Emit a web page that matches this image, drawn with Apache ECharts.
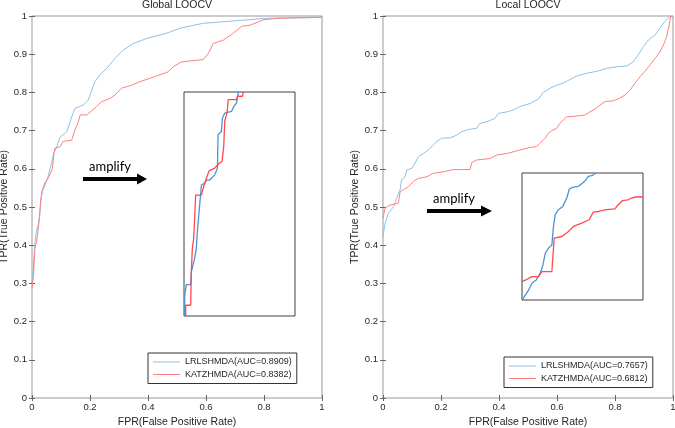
<!DOCTYPE html>
<html>
<head>
<meta charset="utf-8">
<script src="https://cdn.jsdelivr.net/npm/echarts@6/dist/echarts.min.js"></script>
<style>
  html, body { margin: 0; padding: 0; background: #fff; }
  #chart { width: 675px; height: 428px; }
</style>
</head>
<body>
<div id="chart"></div>
<script>
// panel titles / legend names
const panelTitles = ['Global LOOCV', 'Local LOOCV'];
const globalNames = ['LRLSHMDA(AUC=0.8909)', 'KATZHMDA(AUC=0.8382)'];
const localNames = ['LRLSHMDA(AUC=0.7657)', 'KATZHMDA(AUC=0.6812)'];
const xTickStep = 0.2;
const yTickStep = 0.1;

// Global LOOCV ROC curves [FPR, TPR]
const globalBlue = [[0,0.3],[0.004,0.33],[0.007,0.37],[0.009,0.396],[0.014,0.43],[0.02,0.45],[0.026,0.475],[0.03,0.51],[0.033,0.53],[0.038,0.545],[0.045,0.557],[0.055,0.58],[0.067,0.614],[0.075,0.64],[0.084,0.655],[0.097,0.683],[0.12,0.697],[0.13,0.72],[0.137,0.736],[0.148,0.758],[0.177,0.767],[0.194,0.78],[0.206,0.806],[0.217,0.828],[0.234,0.846],[0.258,0.863],[0.286,0.889],[0.315,0.911],[0.349,0.928],[0.395,0.941],[0.464,0.955],[0.51,0.968],[0.591,0.981],[0.694,0.987],[0.809,0.994],[1,0.996]];
const globalRed = [[0,0.288],[0.005,0.318],[0.01,0.392],[0.016,0.409],[0.025,0.466],[0.03,0.518],[0.034,0.54],[0.044,0.563],[0.056,0.575],[0.061,0.578],[0.07,0.6],[0.076,0.641],[0.079,0.654],[0.097,0.658],[0.108,0.672],[0.137,0.675],[0.148,0.702],[0.16,0.723],[0.166,0.741],[0.189,0.741],[0.223,0.763],[0.24,0.776],[0.269,0.784],[0.286,0.793],[0.309,0.811],[0.344,0.819],[0.372,0.828],[0.407,0.837],[0.441,0.846],[0.47,0.854],[0.487,0.867],[0.516,0.88],[0.591,0.886],[0.608,0.902],[0.625,0.928],[0.66,0.937],[0.694,0.955],[0.723,0.973],[0.752,0.976],[0.798,0.99],[0.844,0.994],[1,0.997]];

// Local LOOCV ROC curves
const localBlue = [[0,0.42],[0.001,0.427],[0.007,0.457],[0.018,0.483],[0.036,0.501],[0.047,0.523],[0.059,0.545],[0.064,0.571],[0.076,0.579],[0.082,0.597],[0.099,0.601],[0.11,0.614],[0.122,0.632],[0.139,0.64],[0.156,0.649],[0.173,0.662],[0.185,0.671],[0.202,0.68],[0.231,0.681],[0.254,0.688],[0.271,0.697],[0.294,0.703],[0.323,0.706],[0.334,0.719],[0.358,0.723],[0.386,0.732],[0.398,0.745],[0.427,0.749],[0.449,0.754],[0.472,0.763],[0.507,0.771],[0.536,0.783],[0.553,0.8],[0.576,0.811],[0.599,0.819],[0.622,0.824],[0.645,0.834],[0.668,0.843],[0.702,0.85],[0.742,0.856],[0.771,0.863],[0.806,0.867],[0.84,0.869],[0.863,0.88],[0.88,0.898],[0.898,0.92],[0.915,0.937],[0.938,0.95],[0.955,0.968],[0.972,0.986],[0.99,0.999],[1,1]];
const localRed = [[0,0.47],[0.001,0.475],[0.007,0.497],[0.024,0.505],[0.053,0.51],[0.059,0.54],[0.07,0.545],[0.087,0.553],[0.105,0.567],[0.122,0.575],[0.151,0.579],[0.173,0.588],[0.208,0.592],[0.242,0.598],[0.3,0.598],[0.306,0.616],[0.323,0.623],[0.369,0.627],[0.392,0.636],[0.427,0.64],[0.472,0.649],[0.507,0.656],[0.53,0.658],[0.541,0.667],[0.559,0.68],[0.57,0.693],[0.582,0.7],[0.599,0.706],[0.61,0.719],[0.622,0.728],[0.633,0.736],[0.668,0.738],[0.697,0.741],[0.714,0.749],[0.731,0.756],[0.748,0.767],[0.766,0.776],[0.794,0.778],[0.817,0.785],[0.834,0.793],[0.852,0.806],[0.869,0.824],[0.886,0.841],[0.903,0.855],[0.921,0.872],[0.938,0.889],[0.955,0.906],[0.967,0.924],[0.978,0.946],[0.986,0.973],[0.992,0.999],[1,1]];

// magnified insets (box units 0..1)
const insetGlobalBlue = [[0.006,0.003],[0.006,0.09],[0.021,0.09],[0.021,0.14],[0.06,0.14],[0.066,0.197],[0.081,0.227],[0.096,0.257],[0.111,0.301],[0.12,0.376],[0.136,0.466],[0.148,0.533],[0.157,0.585],[0.187,0.593],[0.202,0.607],[0.232,0.607],[0.277,0.63],[0.301,0.66],[0.307,0.809],[0.337,0.824],[0.346,0.884],[0.367,0.906],[0.428,0.913],[0.449,0.936],[0.473,0.951],[0.488,0.996],[0.494,1]];
const insetGlobalRed = [[0.015,0],[0.015,0.048],[0.06,0.048],[0.066,0.197],[0.075,0.301],[0.087,0.346],[0.096,0.436],[0.105,0.54],[0.157,0.54],[0.172,0.57],[0.202,0.615],[0.226,0.648],[0.277,0.66],[0.316,0.682],[0.343,0.69],[0.358,0.757],[0.367,0.869],[0.389,0.913],[0.398,0.966],[0.473,0.966],[0.482,0.981],[0.527,0.981],[0.533,1]];
const insetLocalBlue = [[0.005,0.005],[0.027,0.039],[0.055,0.079],[0.082,0.132],[0.118,0.158],[0.151,0.211],[0.173,0.276],[0.192,0.368],[0.219,0.408],[0.247,0.434],[0.26,0.579],[0.274,0.671],[0.301,0.711],[0.337,0.737],[0.37,0.803],[0.392,0.876],[0.419,0.887],[0.466,0.895],[0.501,0.921],[0.529,0.947],[0.548,0.974],[0.584,0.982],[0.611,1]];
const insetLocalRed = [[0,0.145],[0.041,0.163],[0.082,0.184],[0.137,0.184],[0.164,0.224],[0.247,0.224],[0.266,0.487],[0.329,0.5],[0.384,0.539],[0.425,0.579],[0.493,0.605],[0.556,0.632],[0.589,0.692],[0.63,0.697],[0.699,0.711],[0.767,0.718],[0.795,0.75],[0.83,0.782],[0.877,0.789],[0.904,0.803],[0.94,0.811],[1,0.811]];

const FONT = 'Liberation Sans, Arial, sans-serif';
const BLUE = '#8cc1ec', RED = '#ff8080';
const BLUE_IN = '#4a94d6', RED_IN = '#ff4a4a';

const chart = echarts.init(document.getElementById('chart'));

function mainAxes(gi){
    const tick = { show: true, inside: true, length: 3, lineStyle: { color: '#666' } };
    const lbl = { color: '#262626', fontSize: 9.5, fontFamily: FONT };
    return {
        x: [{
            gridIndex: gi, type: 'value', min: 0, max: 1, interval: xTickStep, position: 'bottom',
            axisLine: { show: false }, axisTick: tick, splitLine: { show: false },
            axisLabel: Object.assign({ margin: 4 }, lbl),
            name: 'FPR(False Positive Rate)', nameLocation: 'middle', nameGap: 19,
            nameTextStyle: { color: '#262626', fontSize: 10.5, fontFamily: FONT }
        }, {
            gridIndex: gi, type: 'value', min: 0, max: 1, interval: xTickStep, position: 'top',
            axisLine: { show: false }, axisTick: tick, axisLabel: { show: false }, splitLine: { show: false }
        }],
        y: [{
            gridIndex: gi, type: 'value', min: 0, max: 1, interval: yTickStep, position: 'left',
            axisLine: { show: false }, axisTick: tick, splitLine: { show: false },
            axisLabel: Object.assign({ margin: 5 }, lbl),
            name: 'TPR(True Positive Rate)', nameLocation: 'middle', nameGap: 21,
            nameTextStyle: { color: '#262626', fontSize: 10.5, fontFamily: FONT }
        }, {
            gridIndex: gi, type: 'value', min: 0, max: 1, interval: yTickStep, position: 'right',
            axisLine: { show: false }, axisTick: tick, axisLabel: { show: false }, splitLine: { show: false }
        }]
    };
}
function insetAxes(gi){
    const off = { show: false };
    return {
        x: { gridIndex: gi, type: 'value', min: 0, max: 1, axisLine: off, axisTick: off, axisLabel: off, splitLine: off },
        y: { gridIndex: gi, type: 'value', min: 0, max: 1, axisLine: off, axisTick: off, axisLabel: off, splitLine: off }
    };
}

const a0 = mainAxes(0), a1 = mainAxes(1), a2 = insetAxes(2), a3 = insetAxes(3);
// xAxis indices: 0,1 grid0; 2,3 grid1; 4 grid2; 5 grid3
const xAxes = [a0.x[0], a0.x[1], a1.x[0], a1.x[1], a2.x, a3.x];
const yAxes = [a0.y[0], a0.y[1], a1.y[0], a1.y[1], a2.y, a3.y];

function line(name, data, xi, color, width){
    return {
        type: 'line', name: name, data: data, xAxisIndex: xi, yAxisIndex: xi,
        symbol: 'none', animation: false, z: 3,
        lineStyle: { color: color, width: width },
        itemStyle: { color: color }
    };
}

const legendText = { color: '#262626', fontSize: 9, fontFamily: FONT, lineHeight: 12 };

chart.setOption({
    backgroundColor: '#fff',
    animation: false,
    title: [
        { text: panelTitles[0], left: 177, top: 0, textAlign: 'center', padding: 0,
          textStyle: { fontSize: 10.5, fontWeight: 'normal', color: '#262626', fontFamily: FONT } },
        { text: panelTitles[1], left: 528, top: 0, textAlign: 'center', padding: 0,
          textStyle: { fontSize: 10.5, fontWeight: 'normal', color: '#262626', fontFamily: FONT } }
    ],
    grid: [
        { left: 32, top: 16, width: 290, height: 382, show: true, borderColor: '#999', borderWidth: 1, containLabel: false, outerBoundsMode: 'none' },
        { left: 383, top: 16, width: 290, height: 382, show: true, borderColor: '#999', borderWidth: 1, containLabel: false, outerBoundsMode: 'none' },
        { left: 184, top: 92, width: 111, height: 224, show: true, backgroundColor: '#fff', borderColor: '#404040', borderWidth: 1, z: 2, outerBoundsMode: 'none' },
        { left: 522, top: 173, width: 121, height: 127, show: true, backgroundColor: '#fff', borderColor: '#404040', borderWidth: 1, z: 2, outerBoundsMode: 'none' }
    ],
    xAxis: xAxes,
    yAxis: yAxes,
    legend: [
        { data: globalNames, orient: 'vertical', left: 148, top: 353, icon: 'rect',
          itemWidth: 27, itemHeight: 1, itemGap: 0.5, padding: [3, 5, 3, 5],
          borderColor: '#333', borderWidth: 1, backgroundColor: '#fff',
          textStyle: legendText, selectedMode: false },
        { data: localNames, orient: 'vertical', left: 504, top: 357, icon: 'rect',
          itemWidth: 27, itemHeight: 1, itemGap: 0.5, padding: [3, 5, 3, 5],
          borderColor: '#333', borderWidth: 1, backgroundColor: '#fff',
          textStyle: legendText, selectedMode: false }
    ],
    graphic: [
        { type: 'text', left: 89, top: 160, style: { text: 'amplify', font: '13px Lato', fill: '#000' } },
        { type: 'line', shape: { x1: 83, y1: 179, x2: 139, y2: 179 }, style: { stroke: '#000', lineWidth: 4 } },
        { type: 'polygon', shape: { points: [[137, 173.5], [147, 179], [137, 184.5]] }, style: { fill: '#000' } },
        { type: 'text', left: 433, top: 192, style: { text: 'amplify', font: '13px Lato', fill: '#000' } },
        { type: 'line', shape: { x1: 427, y1: 211, x2: 483, y2: 211 }, style: { stroke: '#000', lineWidth: 4 } },
        { type: 'polygon', shape: { points: [[481, 205.5], [492, 211], [481, 216.5]] }, style: { fill: '#000' } }
    ],
    series: [
        line(globalNames[0], globalBlue, 0, BLUE, 1),
        line(globalNames[1], globalRed, 0, RED, 1),
        line(localNames[0], localBlue, 2, BLUE, 1),
        line(localNames[1], localRed, 2, RED, 1),
        line('inset-global-blue', insetGlobalBlue, 4, BLUE_IN, 1.3),
        line('inset-global-red', insetGlobalRed, 4, RED_IN, 1.3),
        line('inset-local-blue', insetLocalBlue, 5, BLUE_IN, 1.3),
        line('inset-local-red', insetLocalRed, 5, RED_IN, 1.3)
    ]
});
</script>
</body>
</html>
